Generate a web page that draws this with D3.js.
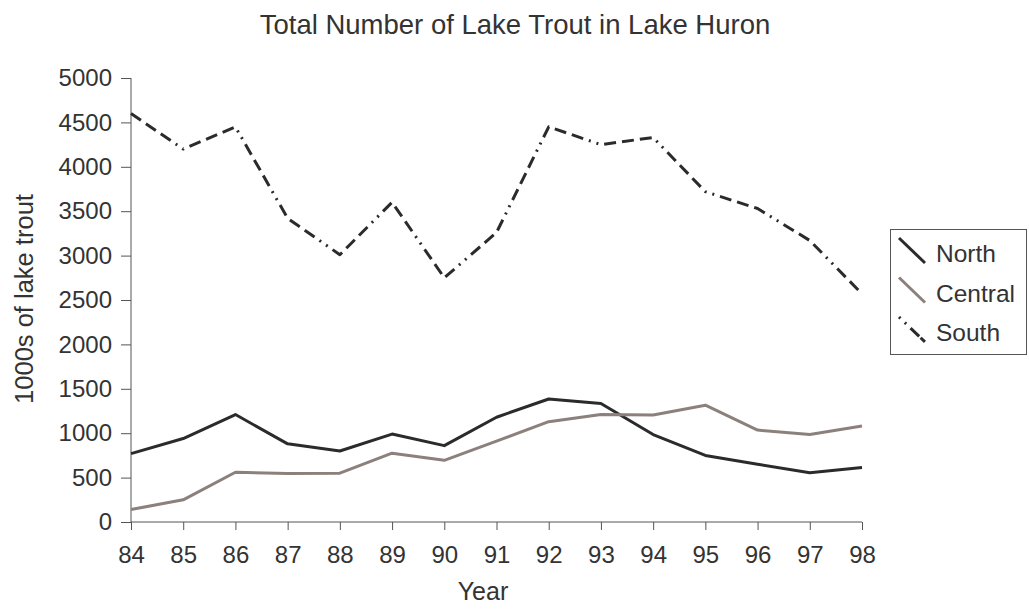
<!DOCTYPE html>
<html>
<head>
<meta charset="utf-8">
<script src="https://cdn.jsdelivr.net/npm/d3@7"></script>
<style>
  body { margin: 0; background: #fff; }
  svg { display: block; }
</style>
</head>
<body>
<svg id="chart" width="1029" height="609"></svg>
<script>
// values, 1000s of lake trout
const years = [84, 85, 86, 87, 88, 89, 90, 91, 92, 93, 94, 95, 96, 97, 98];
const north = [770, 940, 1210, 880, 800, 990, 860, 1180, 1385, 1335, 985, 750, 650, 555, 615];
const central = [140, 250, 560, 545, 550, 775, 695, 910, 1130, 1210, 1205, 1315, 1035, 985, 1080];
const south = [4600, 4200, 4450, 3420, 3010, 3600, 2750, 3260, 4450, 4250, 4330, 3720, 3530, 3170, 2570];
const yTicks = [0, 500, 1000, 1500, 2000, 2500, 3000, 3500, 4000, 4500, 5000];

const series = [
    { name: "North", values: north, color: "#2b2b2e", dash: null },
    { name: "Central", values: central, color: "#8c807c", dash: null },
    { name: "South", values: south, color: "#2b2b2e", dash: "12,6,12,6,12,6,2,6,2,6" }
];

const svg = d3.select("#chart");
const textColor = "#333";
const font = "'Liberation Sans', Arial, sans-serif";

const x = d3.scaleLinear().domain([84, 98]).range([131, 862]);
const y = d3.scaleLinear().domain([0, 5000]).range([522, 78]);

// title
svg.append("text")
    .attr("x", 515).attr("y", 34)
    .attr("text-anchor", "middle")
    .attr("font-family", font).attr("font-size", 27.5)
    .attr("fill", textColor)
    .text("Total Number of Lake Trout in Lake Huron");

// y axis
const yAxis = svg.append("g")
    .attr("transform", "translate(131,0)")
    .call(d3.axisLeft(y).tickValues(yTicks).tickSize(10).tickPadding(9).tickFormat(d3.format("d")));
yAxis.selectAll("text")
    .attr("font-family", font).attr("font-size", 24).attr("fill", textColor);
yAxis.selectAll("line, path").attr("stroke", "#555");

// x axis
const xAxis = svg.append("g")
    .attr("transform", "translate(0,522)")
    .call(d3.axisBottom(x).tickValues(years).tickSize(8).tickPadding(16).tickFormat(d3.format("d")));
xAxis.selectAll("text")
    .attr("font-family", font).attr("font-size", 24).attr("fill", textColor);
xAxis.selectAll("line, path").attr("stroke", "#555");
xAxis.select(".domain").attr("d", "M131,0H862");
yAxis.select(".domain").attr("d", "M0,78V522");

// axis labels
svg.append("text")
    .attr("x", 483).attr("y", 600)
    .attr("text-anchor", "middle")
    .attr("font-family", font).attr("font-size", 25)
    .attr("fill", textColor)
    .text("Year");

svg.append("text")
    .attr("transform", "translate(33,299) rotate(-90)")
    .attr("text-anchor", "middle")
    .attr("font-family", font).attr("font-size", 25.5)
    .attr("fill", textColor)
    .text("1000s of lake trout");

// lines
const line = d3.line()
    .x((d, i) => x(years[i]))
    .y(d => y(d));

svg.append("g")
    .attr("fill", "none")
    .selectAll("path")
    .data(series)
    .enter().append("path")
    .attr("stroke", d => d.color)
    .attr("stroke-width", 3)
    .attr("stroke-dasharray", d => d.dash)
    .attr("stroke-linejoin", "round")
    .attr("d", d => line(d.values));

// legend
const legend = svg.append("g").attr("transform", "translate(890,229)");
legend.append("rect")
    .attr("x", 0.5).attr("y", 0.5)
    .attr("width", 136).attr("height", 125)
    .attr("fill", "#fff").attr("stroke", "#555");

const item = legend.selectAll("g.item")
    .data(series)
    .enter().append("g")
    .attr("class", "item")
    .attr("transform", (d, i) => `translate(0,${i * 39.5})`);

item.append("line")
    .attr("x1", 9).attr("y1", 9)
    .attr("x2", 35).attr("y2", 34)
    .attr("stroke", d => d.color)
    .attr("stroke-width", 3)
    .attr("stroke-dasharray", d => d.dash ? "2,6,2,6,12" : null);

item.append("text")
    .attr("x", 46).attr("y", 33)
    .attr("font-family", font).attr("font-size", 24.5)
    .attr("fill", textColor)
    .text(d => d.name);
</script>
</body>
</html>
